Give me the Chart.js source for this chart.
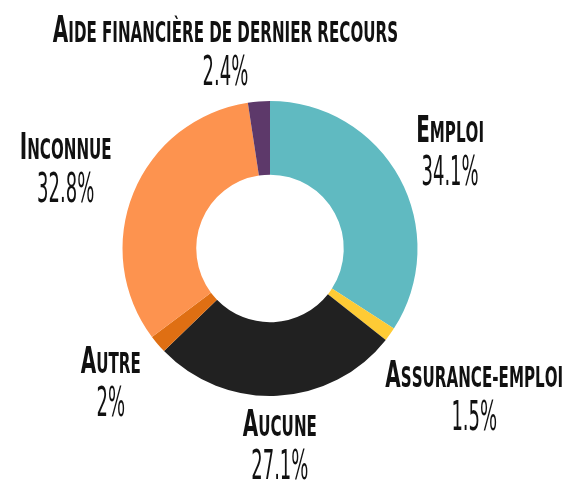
<!DOCTYPE html>
<html>
<head>
<meta charset="utf-8">
<script src="https://cdn.jsdelivr.net/npm/chart.js@4.4.1/dist/chart.umd.min.js"></script>
<style>
  html, body { margin: 0; padding: 0; background: #fff; }
  #wrap { width: 588px; height: 483px; }
</style>
</head>
<body>
<div id="wrap"><canvas id="graficoDonut"></canvas></div>
<script>
// données
const categories = ["Emploi", "Assurance-emploi", "Aucune", "Autre", "Inconnue", "Aide financière de dernier recours"];
const valeurs = [34.1, 1.5, 27.1, 2, 32.8, 2.4];
const etiquettesValeurs = ["34.1%", "1.5%", "27.1%", "2%", "32.8%", "2.4%"];
const couleurs = ["#60bac1", "#fecb35", "#212121", "#df6f13", "#fd934f", "#5d396a"];

const policeNom = "'DejaVu Sans Condensed', 'DejaVu Sans', sans-serif";
const policeVal = "'DejaVu Sans Condensed', 'DejaVu Sans', sans-serif";

// avance d'un caractère en petites capitales
function avance(ctx, ch, opt) {
    const grand = ch === ch.toUpperCase() && ch !== ch.toLowerCase();
    ctx.font = "bold " + (grand ? opt.grand : opt.petit) + "px " + policeNom;
    return ctx.measureText(ch.toUpperCase()).width;
}

function mesurerNom(ctx, txt, opt) {
    let w = 0;
    for (let i = 0; i < txt.length; i++) {
        w += avance(ctx, txt[i], opt);
    }
    return w * opt.sx;
}

function dessinerNom(ctx, txt, x, y, opt) {
    ctx.save();
    ctx.translate(x, y);
    ctx.scale(opt.sx, 1);
    let cx = 0;
    for (let i = 0; i < txt.length; i++) {
        const w = avance(ctx, txt[i], opt);
        ctx.fillText(txt[i].toUpperCase(), cx, 0);
        cx += w;
    }
    ctx.restore();
}

const etiquettesPlugin = {
    id: "etiquettes",
    afterDatasetsDraw(chart, args, opts) {
        const ctx = chart.ctx;
        const meta = chart.getDatasetMeta(0);
        ctx.save();
        ctx.fillStyle = "#111";
        ctx.textBaseline = "alphabetic";
        ctx.textAlign = "left";
        meta.data.forEach((arc, i) => {
            const p = arc.getProps(["x", "y", "startAngle", "endAngle", "outerRadius"], true);
            const mid = (p.startAngle + p.endAngle) / 2;
            const ux = Math.cos(mid), uy = Math.sin(mid);
            const wNom = mesurerNom(ctx, categories[i], opts.nom);
            ctx.font = opts.val.taille + "px " + policeVal;
            const wVal = ctx.measureText(etiquettesValeurs[i]).width * opts.val.sx;
            const w = Math.max(wNom, wVal);
            const h = opts.hauteur;
            const d = p.outerRadius + opts.ecart + Math.abs(ux) * w / 2 + Math.abs(uy) * h / 2;
            const dec = opts.decalages[i] || [0, 0];
            const cx = p.x + ux * d + dec[0];
            const top = p.y + uy * d - h / 2 + dec[1];
            dessinerNom(ctx, categories[i], cx - wNom / 2, top + opts.nom.base, opts.nom);
            ctx.save();
            ctx.translate(cx - wVal / 2, top + opts.val.base);
            ctx.scale(opts.val.sx, 1);
            ctx.font = opts.val.taille + "px " + policeVal;
            ctx.fillText(etiquettesValeurs[i], 0, 0);
            ctx.restore();
        });
        ctx.restore();
    }
};

new Chart(document.getElementById("graficoDonut"), {
    type: "doughnut",
    data: {
        labels: categories,
        datasets: [{
            data: valeurs,
            backgroundColor: couleurs,
            borderWidth: 0
        }]
    },
    options: {
        responsive: true,
        maintainAspectRatio: false,
        animation: false,
        cutout: "50%",
        layout: { padding: { top: 101, bottom: 87, left: 0, right: 48 } },
        plugins: {
            legend: { display: false },
            tooltip: { enabled: false },
            etiquettes: {
                ecart: 11,
                hauteur: 70,
                nom: { grand: 37, petit: 28, sx: 0.6, base: 27 },
                val: { taille: 40, sx: 0.5, base: 70 },
                decalages: [[0, 0], [0, 0], [0, 0], [-4, 0], [-6, 0], [-29, 7]]
            }
        }
    },
    plugins: [etiquettesPlugin]
});
</script>
</body>
</html>
